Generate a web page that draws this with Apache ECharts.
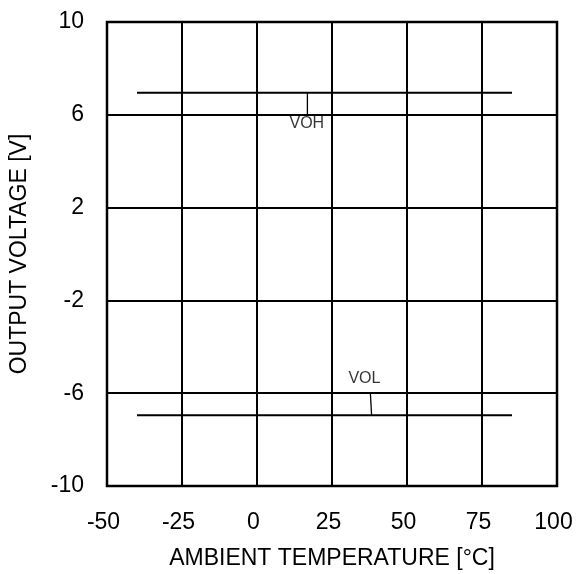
<!DOCTYPE html>
<html>
<head>
<meta charset="utf-8">
<script src="https://cdn.jsdelivr.net/npm/echarts@6/dist/echarts.min.js"></script>
<style>html,body{margin:0;padding:0;background:#fff;}#c{width:583px;height:574px;}</style>
</head>
<body>
<div id="c"></div>
<script>
// Data
var xTicks = [-50, -25, 0, 25, 50, 75, 100];
var yTicks = [-10, -6, -2, 2, 6, 10];
var vohLine = [[-40, 6.95], [85, 6.95]];
var volLine = [[-40, -6.95], [85, -6.95]];
var vohLeader = [[16.8, 6.95], [16.8, 6.02]];
var volLeader = [[37.8, -6.02], [38.2, -6.95]];
var vohLabelPos = [[16.6, 5.63]];
var volLabelPos = [[35.8, -5.39]];

var chart = echarts.init(document.getElementById('c'), null, {renderer: 'canvas'});
var font = 'Liberation Sans, Arial, sans-serif';
function lineSeries(data, w) {
  return {type: 'line', data: data, symbol: 'none', silent: true,
    lineStyle: {color: '#000', width: w}, z: 5};
}
function labelSeries(data, text) {
  return {type: 'scatter', data: data, symbolSize: 0, silent: true, z: 6,
    label: {show: true, position: 'inside', formatter: text, color: '#000',
      fontSize: 16, fontFamily: font}};
}
chart.setOption({
  animation: false,
  backgroundColor: '#fff',
  grid: {left: 107, right: 26, top: 22, bottom: 88, show: true, borderColor: '#000', borderWidth: 2.5,
    containLabel: false, outerBoundsMode: 'none'},
  xAxis: {
    type: 'value', min: xTicks[0], max: xTicks[xTicks.length - 1], interval: 25,
    name: 'AMBIENT TEMPERATURE [°C]', nameLocation: 'middle', nameGap: 61,
    nameTextStyle: {fontSize: 23, color: '#000', fontFamily: font},
    axisLine: {show: false}, axisTick: {show: false},
    axisLabel: {fontSize: 23, color: '#000', fontFamily: font, margin: 25, padding: [0, 7, 0, 0]},
    splitLine: {show: true, lineStyle: {color: '#000', width: 2}}
  },
  yAxis: {
    type: 'value', min: yTicks[0], max: yTicks[yTicks.length - 1], interval: 4,
    name: 'OUTPUT VOLTAGE [V]', nameLocation: 'middle', nameGap: 76, nameRotate: 90,
    nameTextStyle: {fontSize: 23, color: '#000', fontFamily: font},
    axisLine: {show: false}, axisTick: {show: false},
    axisLabel: {fontSize: 23, color: '#000', fontFamily: font, margin: 23},
    splitLine: {show: true, lineStyle: {color: '#000', width: 2}}
  },
  series: [
    lineSeries(vohLine, 2),
    lineSeries(volLine, 2),
    lineSeries(vohLeader, 1.3),
    lineSeries(volLeader, 1.3),
    labelSeries(vohLabelPos, 'VOH'),
    labelSeries(volLabelPos, 'VOL')
  ]
});
</script>
</body>
</html>
